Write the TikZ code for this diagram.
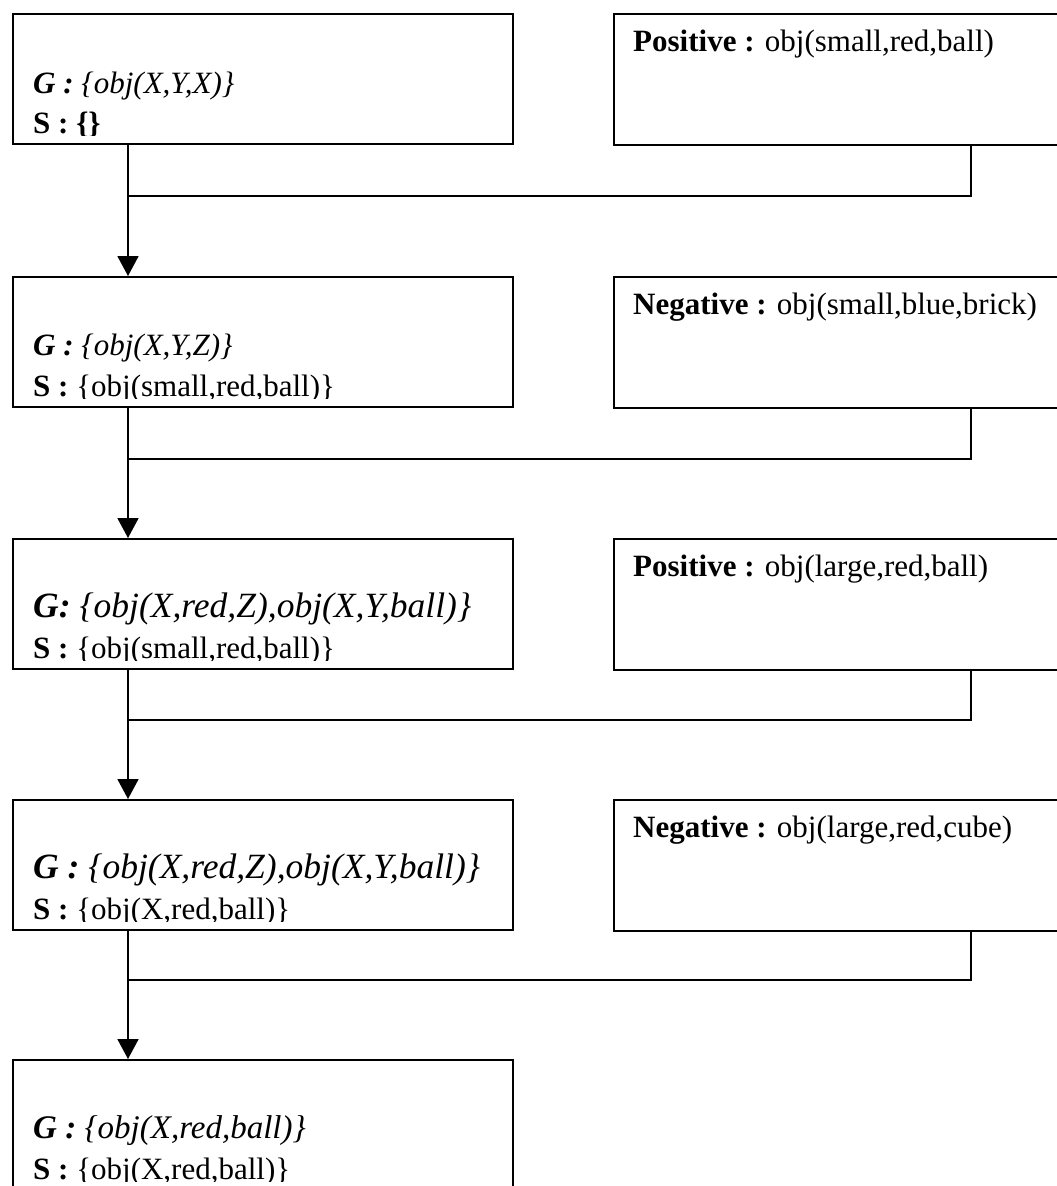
\documentclass[tikz,border=0pt]{standalone}
\usepackage{fontspec}
\setmainfont{Liberation Serif}
\usetikzlibrary{arrows.meta}
\begin{document}
\begin{tikzpicture}[x=1pt,y=-1pt,
  lbox/.style={draw, line width=1.8pt, rectangle, anchor=north west, inner sep=0pt, minimum width=500pt, minimum height=130pt},
  rbox/.style={draw, line width=1.8pt, rectangle, anchor=north west, inner sep=0pt, minimum width=500pt, minimum height=131pt},
  txt/.style={anchor=base west, inner sep=0pt, font=\fontsize{31}{37}\selectfont},
  bigtxt/.style={txt, font=\fontsize{35.5}{42}\selectfont},
  midtxt/.style={txt, font=\fontsize{33}{40}\selectfont},
  link/.style={line width=1.8pt},
  arr/.style={line width=1.8pt, -{Triangle[width=21pt,length=20pt]}}]
\useasboundingbox (0,0) rectangle (1057,1186);
\clip (0,0) rectangle (1057,1186);
\fill[white] (0,0) rectangle (1057,1186);

% left boxes
\node[lbox] (L1) at (12,13) {};
\node[lbox] (L2) at (12,276) {};
\node[lbox] (L3) at (12,538) {};
\node[lbox] (L4) at (12,799) {};
\node[lbox] (L5) at (12,1059) {};

% right boxes
\node[rbox] (R1) at (613,13) {};
\node[rbox] (R2) at (613,276) {};
\node[rbox] (R3) at (613,538) {};
\node[rbox] (R4) at (613,799) {};

% left box texts (clipped at the inner bottom margin)
\begin{scope}
\clip (12,13) rectangle (512,135);
\node[txt] (g1) at (33,93) {\textbf{\textit{G :}} \textit{\{obj(X,Y,X)\}}};
\node[txt] (s1) at (33,133) {\textbf{S : \{\}}};
\end{scope}
\begin{scope}
\clip (12,276) rectangle (512,398);
\node[txt] (g2) at (33,355) {\textbf{\textit{G :}} \textit{\{obj(X,Y,Z)\}}};
\node[txt] (s2) at (33,396) {\textbf{S :} \{obj(small,red,ball)\}};
\end{scope}
\begin{scope}
\clip (12,538) rectangle (512,660);
\node[bigtxt] (g3) at (33,617) {\textbf{\textit{G:}} \textit{\{obj(X,red,Z),obj(X,Y,ball)\}}};
\node[txt] (s3) at (33,658) {\textbf{S :} \{obj(small,red,ball)\}};
\end{scope}
\begin{scope}
\clip (12,799) rectangle (512,921);
\node[bigtxt] (g4) at (33,878) {\textbf{\textit{G :}} \textit{\{obj(X,red,Z),obj(X,Y,ball)\}}};
\node[txt] (s4) at (33,919) {\textbf{S :} \{obj(X,red,ball)\}};
\end{scope}
\begin{scope}
\clip (12,1059) rectangle (512,1181);
\node[midtxt] (g5) at (33,1138) {\textbf{\textit{G :}} \textit{\{obj(X,red,ball)\}}};
\node[txt] (s5) at (33,1179) {\textbf{S :} \{obj(X,red,ball)\}};
\end{scope}

% right box texts
\node[txt] (p1) at (633,51) {\textbf{Positive :} obj(small,red,ball)};
\node[txt] (n2) at (633,314) {\textbf{Negative :} obj(small,blue,brick)};
\node[txt] (p3) at (633,576) {\textbf{Positive :} obj(large,red,ball)};
\node[txt] (n4) at (633,837) {\textbf{Negative :} obj(large,red,cube)};

% junctions
\coordinate (j1) at (128,196);
\coordinate (j2) at (128,459);
\coordinate (j3) at (128,720);
\coordinate (j4) at (128,980);
\coordinate (k1) at (971,196);
\coordinate (k2) at (971,459);
\coordinate (k3) at (971,720);
\coordinate (k4) at (971,980);

% connectors
\draw[link] (R1.south -| k1) -- (k1) -- (j1);
\draw[link] (R2.south -| k2) -- (k2) -- (j2);
\draw[link] (R3.south -| k3) -- (k3) -- (j3);
\draw[link] (R4.south -| k4) -- (k4) -- (j4);

\draw[arr] (L1.south -| j1) -- (L2.north -| j1);
\draw[arr] (L2.south -| j2) -- (L3.north -| j2);
\draw[arr] (L3.south -| j3) -- (L4.north -| j3);
\draw[arr] (L4.south -| j4) -- (L5.north -| j4);
\end{tikzpicture}
\end{document}
